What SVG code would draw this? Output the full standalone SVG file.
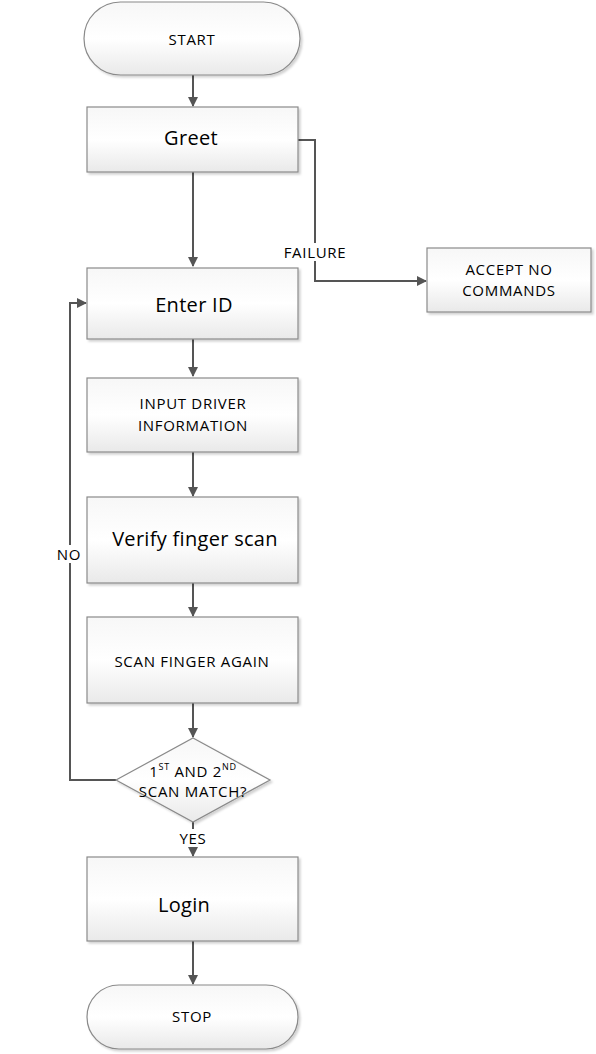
<svg xmlns="http://www.w3.org/2000/svg" width="596" height="1054" viewBox="0 0 596 1054">
<defs>
<linearGradient id="g" x1="0" y1="0" x2="0" y2="1">
<stop offset="0" stop-color="#f7f7f7"/>
<stop offset="0.5" stop-color="#ffffff"/>
<stop offset="1" stop-color="#e9e9e9"/>
</linearGradient>
<filter id="sh" x="-5%" y="-5%" width="115%" height="115%">
<feDropShadow dx="2" dy="2" stdDeviation="1" flood-color="#000" flood-opacity="0.18"/>
</filter>
<marker id="ah" markerWidth="10" markerHeight="10" refX="9" refY="5" orient="auto" markerUnits="userSpaceOnUse">
<path d="M0,0 L10,5 L0,10 z" fill="#555"/>
</marker>
</defs>
<style>
.n{fill:url(#g);stroke:#8a8a8a;stroke-width:1.2;filter:url(#sh)}
.c{fill:none;stroke:#555;stroke-width:2;marker-end:url(#ah)}
.t{font-family:"Open Sans","Liberation Sans",sans-serif;fill:#000;text-anchor:middle;dominant-baseline:central}
.s{font-size:15px;letter-spacing:0.7px}
.b{font-size:20px;letter-spacing:0.3px}
.lbl{fill:#fff}
</style>
<rect width="596" height="1054" fill="#fff"/>
<g id="connectors">
<path class="c" d="M193,75 V106"/>
<path class="c" d="M193,172 V266"/>
<path class="c" d="M298,140 H315 V281 H426"/>
<path class="c" d="M193,339 V376"/>
<path class="c" d="M193,452 V496"/>
<path class="c" d="M193,583 V616"/>
<path class="c" d="M193,703 V737"/>
<path class="c" d="M116,780 H70 V303 H86"/>
<path class="c" d="M193,822 V856"/>
<path class="c" d="M193,941 V984"/>
<rect class="lbl" x="280" y="243" width="72" height="18"/>
<text class="t s" x="315" y="252">FAILURE</text>
<rect class="lbl" x="53" y="545" width="34" height="18"/>
<text class="t s" x="69" y="554">NO</text>
<rect class="lbl" x="174" y="829" width="38" height="18"/>
<text class="t s" x="193" y="838">YES</text>
</g>
<g id="start">
<rect class="n" x="84" y="2" width="216" height="73" rx="36.5"/>
<text class="t s" x="192" y="39">START</text>
</g>
<g id="greet">
<rect class="n" x="87" y="107" width="211" height="65"/>
<text class="t b" x="191" y="137">Greet</text>
</g>
<g id="accept">
<rect class="n" x="427" y="248" width="164" height="64"/>
<text class="t s" x="509" y="269">ACCEPT NO</text>
<text class="t s" x="509" y="290">COMMANDS</text>
</g>
<g id="enterid">
<rect class="n" x="87" y="268" width="211" height="71"/>
<text class="t b" x="194" y="304">Enter ID</text>
</g>
<g id="input">
<rect class="n" x="87" y="378" width="211" height="74"/>
<text class="t s" x="193" y="403">INPUT DRIVER</text>
<text class="t s" x="193" y="425">INFORMATION</text>
</g>
<g id="verify">
<rect class="n" x="87" y="497" width="211" height="86"/>
<text class="t b" x="195" y="538">Verify finger scan</text>
</g>
<g id="scanagain">
<rect class="n" x="87" y="617" width="211" height="86"/>
<text class="t s" x="192" y="661">SCAN FINGER AGAIN</text>
</g>
<g id="match">
<path class="n" d="M193,738 L270,780 L193,822 L116,780 z"/>
<text class="t s" x="193" y="771">1<tspan font-size="9" dy="-5">ST</tspan><tspan dy="5"> AND 2</tspan><tspan font-size="9" dy="-5">ND</tspan></text>
<text class="t s" x="193" y="791">SCAN MATCH?</text>
</g>
<g id="login">
<rect class="n" x="87" y="857" width="211" height="84"/>
<text class="t b" x="184" y="904">Login</text>
</g>
<g id="stop">
<rect class="n" x="87" y="985" width="211" height="64" rx="32"/>
<text class="t s" x="192" y="1016">STOP</text>
</g>
</svg>
